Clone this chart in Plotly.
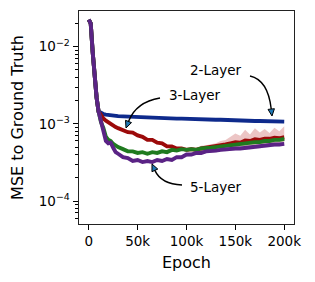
import math
import plotly.graph_objects as go

# ---------------- data ----------------
epochs = [0, 2000, 4000, 6000, 8000, 10000, 12500, 15000, 17500, 20000, 22500, 25000,
          27500, 30000, 35000, 40000, 45000, 50000, 55000, 60000, 65000, 70000, 75000,
          80000, 85000, 90000, 95000, 100000, 105000, 110000, 115000, 120000, 125000,
          130000, 135000, 140000, 145000, 150000, 155000, 160000, 165000, 170000,
          175000, 180000, 185000, 190000, 195000, 200000]

mse_2layer = [0.0225, 0.0200, 0.0085, 0.0037, 0.0022, 0.00145,
              0.00138, 0.00134, 0.00132, 0.00130, 0.00129, 0.00128, 0.00127, 0.00126,
              0.00125, 0.00124, 0.00123, 0.00122, 0.00121, 0.00121, 0.00120, 0.00120,
              0.00119, 0.00118, 0.00118, 0.00117, 0.00117, 0.00116, 0.00116, 0.00115,
              0.00115, 0.00114, 0.00114, 0.00113, 0.00113, 0.00112, 0.00112, 0.00111,
              0.00111, 0.00110, 0.00110, 0.00109, 0.00109, 0.00108, 0.00108, 0.00108,
              0.00107, 0.00107]

mse_3layer = [0.0225, 0.0200, 0.0085, 0.0037, 0.0022, 0.00145,
              0.00128, 0.00117, 0.00110, 0.00104, 0.00100, 0.00094, 0.00091, 0.00088,
              0.00083, 0.00078, 0.00077, 0.00071, 0.00068, 0.00062, 0.00062, 0.00057,
              0.00056, 0.00051, 0.00051, 0.00048, 0.00048, 0.00046, 0.00047, 0.00046,
              0.00048, 0.00049, 0.00050, 0.00051, 0.00053, 0.00054, 0.00056, 0.00058,
              0.00057, 0.00061, 0.00060, 0.00063, 0.00062, 0.00064, 0.00064, 0.00066,
              0.00065, 0.00067]

mse_4layer = [0.0225, 0.0200, 0.0085, 0.0037, 0.0022, 0.00145,
              0.00105, 0.00088, 0.00068, 0.00062, 0.00060, 0.00055, 0.00052, 0.00050,
              0.00047, 0.00044, 0.00044, 0.00042, 0.00043, 0.00041, 0.00043, 0.00042,
              0.00044, 0.00043, 0.00046, 0.00045, 0.00047, 0.00046, 0.00047, 0.00046,
              0.00048, 0.00048, 0.00049, 0.00050, 0.00051, 0.00051, 0.00053, 0.00053,
              0.00055, 0.00055, 0.00056, 0.00058, 0.00058, 0.00060, 0.00060, 0.00062,
              0.00062, 0.00064]

mse_5layer = [0.0225, 0.0200, 0.0085, 0.0037, 0.0022, 0.00145,
              0.00110, 0.00082, 0.00060, 0.00056, 0.00057, 0.00049, 0.00043, 0.00041,
              0.00037, 0.00036, 0.00033, 0.00034, 0.00032, 0.00033, 0.00032, 0.00034,
              0.00033, 0.00035, 0.00034, 0.00037, 0.00037, 0.00040, 0.00040, 0.00042,
              0.00042, 0.00044, 0.00044, 0.00045, 0.00046, 0.00047, 0.00047, 0.00048,
              0.00048, 0.00049, 0.00049, 0.00050, 0.00051, 0.00052, 0.00053, 0.00054,
              0.00054, 0.00055]

band_epochs = [100000, 105000, 110000, 115000, 120000, 125000, 130000, 135000, 140000,
               145000, 150000, 155000, 160000, 165000, 170000, 175000, 180000, 185000,
               190000, 195000, 200000]
red_hi = [0.00049, 0.00050, 0.00049, 0.00052, 0.00053, 0.00055, 0.00056, 0.00060, 0.00062,
          0.00068, 0.00075, 0.00070, 0.00084, 0.00073, 0.00088, 0.00077, 0.00086, 0.00076,
          0.00089, 0.00080, 0.00093]
red_lo = [0.00043, 0.00044, 0.00043, 0.00045, 0.00046, 0.00046, 0.00047, 0.00048, 0.00049,
          0.00050, 0.00050, 0.00050, 0.00052, 0.00051, 0.00053, 0.00052, 0.00054, 0.00054,
          0.00055, 0.00054, 0.00056]
green_hi = [0.00048, 0.00049, 0.00049, 0.00050, 0.00051, 0.00052, 0.00053, 0.00054, 0.00055,
            0.00057, 0.00058, 0.00060, 0.00059, 0.00062, 0.00062, 0.00065, 0.00064, 0.00067,
            0.00066, 0.00069, 0.00070]
green_lo = [0.00044, 0.00045, 0.00044, 0.00046, 0.00046, 0.00047, 0.00048, 0.00049, 0.00049,
            0.00050, 0.00050, 0.00052, 0.00052, 0.00053, 0.00054, 0.00055, 0.00055, 0.00056,
            0.00057, 0.00058, 0.00059]
purple_hi = [0.00041, 0.00042, 0.00044, 0.00044, 0.00046, 0.00047, 0.00047, 0.00049, 0.00050,
             0.00050, 0.00051, 0.00051, 0.00052, 0.00052, 0.00053, 0.00054, 0.00055, 0.00056,
             0.00057, 0.00057, 0.00058]
purple_lo = [0.00037, 0.00038, 0.00040, 0.00040, 0.00042, 0.00042, 0.00043, 0.00044, 0.00044,
             0.00045, 0.00045, 0.00046, 0.00046, 0.00047, 0.00047, 0.00048, 0.00049, 0.00050,
             0.00050, 0.00051, 0.00052]

x_tickvals = [0, 50000, 100000, 150000, 200000]
x_ticktext = ["0", "50k", "100k", "150k", "200k"]
y_tickvals = [1e-4, 1e-3, 1e-2]
y_ticktext = ["10<sup>−4</sup>", "10<sup>−3</sup>", "10<sup>−2</sup>"]

labels = ["2-Layer", "3-Layer", "5-Layer"]

# ---------------- styling ----------------
C_BLUE = "#0e2a8c"
C_RED = "#9c0a0a"
C_GREEN = "#1f7a1f"
C_PURPLE = "#5a2385"
FONT = "DejaVu Sans"
FS = 13.5

W, H = 315, 282
ML, MR, MT, MB = 79, 21, 11, 58
PW, PH = W - ML - MR, H - MT - MB

fig = go.Figure()

def band(xs, lo, hi, color):
    fig.add_trace(go.Scatter(x=xs, y=hi, mode="lines", line=dict(width=0),
                             hoverinfo="skip", showlegend=False))
    fig.add_trace(go.Scatter(x=xs, y=lo, mode="lines", line=dict(width=0),
                             fill="tonexty", fillcolor=color,
                             hoverinfo="skip", showlegend=False))

band(band_epochs, red_lo, red_hi, "rgba(200,90,90,0.35)")
band(band_epochs, green_lo, green_hi, "rgba(40,140,40,0.22)")
band(band_epochs, purple_lo, purple_hi, "rgba(120,70,160,0.22)")

for ys, col in [(mse_2layer, C_BLUE), (mse_3layer, C_RED),
                (mse_4layer, C_GREEN), (mse_5layer, C_PURPLE)]:
    fig.add_trace(go.Scatter(x=epochs, y=ys, mode="lines",
                             line=dict(color=col, width=3.9),
                             showlegend=False))

# ---------------- annotations (pixel layout -> paper) ----------------
def px(x):
    return (x - ML) / PW

def py(y):
    return 1 - (y - MT) / PH

shapes = []

def curved_arrow(start, ctrl, tip, hl=7.0, hw=3.2):
    dx, dy = tip[0] - ctrl[0], tip[1] - ctrl[1]
    n = math.hypot(dx, dy)
    ux, uy = dx / n, dy / n
    bx, by = tip[0] - hl * ux, tip[1] - hl * uy
    path = "M {} {} Q {} {} {} {}".format(px(start[0]), py(start[1]), px(ctrl[0]), py(ctrl[1]),
                                         px(bx), py(by))
    shapes.append(dict(type="path", xref="paper", yref="paper", path=path,
                       line=dict(color="black", width=1.4)))
    p1 = (bx - hw * uy, by + hw * ux)
    p2 = (bx + hw * uy, by - hw * ux)
    tri = "M {} {} L {} {} L {} {} Z".format(px(tip[0]), py(tip[1]), px(p1[0]), py(p1[1]),
                                            px(p2[0]), py(p2[1]))
    shapes.append(dict(type="path", xref="paper", yref="paper", path=tri,
                       fillcolor="#1f77b4", line=dict(color="black", width=1)))

curved_arrow((250, 76), (268, 80), (272, 116))
curved_arrow((160, 98), (136, 102), (126, 128))
curved_arrow((182, 185), (161, 184), (152, 164))

annots = []
for lab, (cx, cy) in zip(labels, [(216, 70), (195, 95), (216, 187)]):
    annots.append(dict(text=lab, xref="paper", yref="paper", x=px(cx), y=py(cy),
                       xanchor="center", yanchor="middle", showarrow=False,
                       font=dict(family=FONT, size=FS, color="black")))

minor_vals = [m * 10.0 ** e for e in range(-5, -1) for m in range(2, 10)]

fig.update_layout(
    width=W, height=H,
    margin=dict(l=ML, r=MR, t=MT, b=MB, pad=0, autoexpand=False),
    paper_bgcolor="white", plot_bgcolor="white",
    font=dict(family=FONT, size=FS, color="black"),
    shapes=shapes, annotations=annots,
    xaxis=dict(range=[-10000, 210000], tickmode="array", tickvals=x_tickvals,
               ticktext=x_ticktext, ticks="outside", ticklen=5, tickwidth=1,
               tickcolor="black", showline=True, mirror=True, linecolor="#222",
               linewidth=1, showgrid=False, zeroline=False, automargin=False,
               title=dict(text="Epoch", standoff=8),
               tickfont=dict(family=FONT, size=FS)),
    yaxis=dict(type="log", range=[-4.298, -1.537], tickmode="array",
               tickvals=y_tickvals, ticktext=y_ticktext, ticks="outside",
               ticklen=5.5, tickwidth=1, tickcolor="black", showline=True,
               mirror=True, linecolor="#222", linewidth=1, showgrid=False,
               zeroline=False, automargin=False,
               title=dict(text="MSE to Ground Truth", standoff=11),
               tickfont=dict(family=FONT, size=FS),
               minor=dict(tickmode="array", tickvals=minor_vals, ticks="outside",
                          ticklen=3, tickcolor="black", showgrid=False)),
)

fig.write_html("out.html", config={"displayModeBar": False},
               post_script="document.body.style.margin='0';document.body.style.padding='0';")
